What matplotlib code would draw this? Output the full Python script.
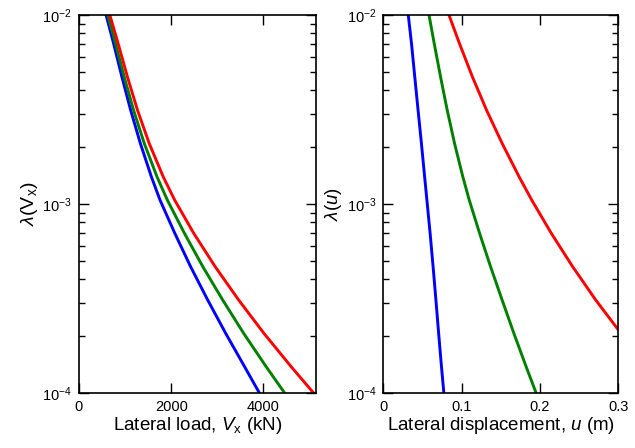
import numpy as np
import matplotlib
matplotlib.use("Agg")
import matplotlib.pyplot as plt

plt.rcParams['font.family'] = ['Liberation Sans', 'DejaVu Sans']
plt.rcParams['mathtext.fontset'] = 'custom'
plt.rcParams['mathtext.rm'] = 'Liberation Sans'
plt.rcParams['mathtext.it'] = 'Liberation Sans:italic'

# exceedance rate levels
lam = [1e-2, 7.08e-3, 4.71e-3, 3.14e-3, 2.09e-3, 1.39e-3, 1.047e-3,
       6.98e-4, 4.65e-4, 3.10e-4, 2.06e-4, 1.374e-4, 1e-4]

# lateral load (kN)
load_blue = [588, 750, 930, 1120, 1331, 1571, 1758, 2079, 2421, 2791, 3183, 3591, 3909]
load_green = [625, 791, 980, 1183, 1416, 1693, 1917, 2288, 2686, 3116, 3573, 4059, 4456]
load_red = [669, 848, 1050, 1268, 1523, 1828, 2076, 2490, 2954, 3462, 4013, 4601, 5083]

# lateral displacement (m)
disp_blue = [0.0319, 0.0360, 0.0402, 0.0444, 0.0487, 0.0528, 0.0557,
             0.0598, 0.0636, 0.0672, 0.0707, 0.0743, 0.0773]
disp_green = [0.0584, 0.0650, 0.0731, 0.0816, 0.0910, 0.1016, 0.1098,
              0.1230, 0.1370, 0.1517, 0.1668, 0.1824, 0.1950]
disp_red = [0.0839, 0.0972, 0.1138, 0.1318, 0.1518, 0.1735, 0.1896,
            0.2146, 0.2418, 0.2712, 0.3036]

colors = ['#0000ff', '#008000', '#ff0000']

fig = plt.figure(figsize=(6.35, 4.48), dpi=100)
ax1 = fig.add_axes([0.1244, 0.1234, 0.3732, 0.843])
ax2 = fig.add_axes([0.6036, 0.1234, 0.370, 0.843])

for xs, c in zip([load_blue, load_green, load_red], colors):
    ax1.plot(xs, lam[:len(xs)], color=c, lw=2.1)
for xs, c in zip([disp_blue, disp_green, disp_red], colors):
    ax2.plot(xs, lam[:len(xs)], color=c, lw=2.1)

ax1.set_xlim(0, 5140)
ax1.set_xticks([0, 2000, 4000])
ax2.set_xlim(0, 0.3)
ax2.set_xticks([0, 0.1, 0.2, 0.3])
ax2.set_xticklabels(['0', '0.1', '0.2', '0.3'])

for ax in (ax1, ax2):
    ax.set_yscale('log')
    ax.set_ylim(1e-4, 1e-2)
    ax.tick_params(which='both', direction='in', top=True, right=True, labelsize=10.5)
    ax.tick_params(which='major', length=7, width=1, pad=5)
    ax.tick_params(which='minor', length=4, width=1)
    ax.tick_params(axis='x', which='minor', top=False, bottom=False)
    for s in ax.spines.values():
        s.set_linewidth(1.2)

ax1.set_xlabel(r'Lateral load, $V_{\rm x}$ (kN)', fontsize=13.5, labelpad=1)
ax1.set_ylabel(r'$\lambda$(V$_{\rm x}$)', fontsize=14, labelpad=2)
ax2.set_xlabel(r'Lateral displacement, $u$ (m)', fontsize=13.5, labelpad=1)
ax2.set_ylabel(r'$\lambda$($u$)', fontsize=13.5, labelpad=2)

fig.savefig('out.png', dpi=100)
